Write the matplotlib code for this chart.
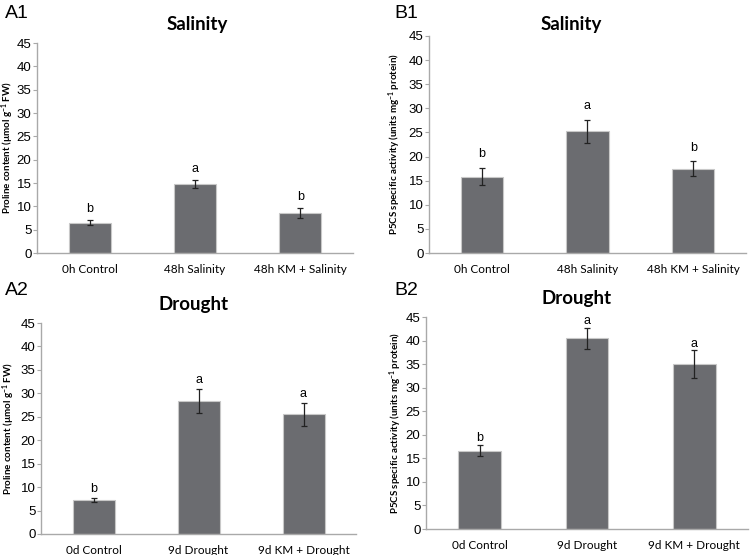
import matplotlib
matplotlib.use('Agg')
import matplotlib.pyplot as plt
import numpy as np

plt.rcParams['mathtext.default'] = 'regular'

# data
salt_groups = ['0h Control', '48h Salinity', '48h KM + Salinity']
drought_groups = ['0d Control', '9d Drought', '9d KM + Drought']

prol_salt = [6.5, 14.8, 8.6]
prol_salt_err = [0.5, 0.8, 1.0]
prol_salt_sig = ['b', 'a', 'b']

p5cs_salt = [15.8, 25.2, 17.5]
p5cs_salt_err = [1.8, 2.4, 1.5]
p5cs_salt_sig = ['b', 'a', 'b']

prol_drought = [7.2, 28.4, 25.5]
prol_drought_err = [0.4, 2.5, 2.4]
prol_drought_sig = ['b', 'a', 'a']

p5cs_drought = [16.6, 40.5, 35.0]
p5cs_drought_err = [1.2, 2.2, 2.9]
p5cs_drought_sig = ['b', 'a', 'a']

PROL_LABEL = 'Proline content (µmol g$^{-1}$ FW)'
P5CS_LABEL = 'P5CS specific activity (units mg$^{-1}$ protein)'

BAR_COLOR = '#6b6c70'
AXIS_COLOR = '#a9a9a9'
W, H = 750, 555


def fx(px):
    return px / W


def fy(py):
    return 1 - py / H


def panel(fig, box, groups, vals, errs, sig, ylabel, ylab_x, title, title_xy, tag, tag_xy, sig_off):
    # box = left, right, top, bottom in pixels
    l, r, t, b = box
    ax = fig.add_axes([fx(l), fy(b), (r - l) / W, (b - t) / H])
    x = np.arange(len(groups))
    ax.bar(x, vals, width=0.4, color=BAR_COLOR, edgecolor='#c8c8c8', linewidth=0.8, zorder=2)
    ax.errorbar(x, vals, yerr=errs, fmt='none', ecolor='#222222', elinewidth=0.9,
                capsize=2.2, capthick=0.9, zorder=3)
    for xi, v, e, s in zip(x, vals, errs, sig):
        ax.annotate(s, (xi, v + e), xytext=(0, sig_off), textcoords='offset points',
                    ha='center', va='bottom', fontsize=9, family='Liberation Sans')

    ax.set_xlim(-0.5, len(groups) - 0.5)
    ax.set_ylim(0, 45)
    ax.set_yticks(np.arange(0, 46, 5))
    ax.set_xticks(x)
    ax.set_xticklabels(groups, family='Lato', fontsize=8.5)
    for lab in ax.get_yticklabels():
        lab.set_family('Liberation Sans')
        lab.set_fontsize(9.5)
    ax.tick_params(axis='x', length=0, pad=8)
    ax.tick_params(axis='y', length=3, width=0.8, color=AXIS_COLOR, pad=1)
    for sp in ['top', 'right']:
        ax.spines[sp].set_visible(False)
    for sp in ['left', 'bottom']:
        ax.spines[sp].set_color(AXIS_COLOR)
        ax.spines[sp].set_linewidth(1.0)
    ax.set_ylabel(ylabel, family='Lato', fontweight='bold', fontsize=7, va='center')
    ax.yaxis.set_label_coords((ylab_x - l) / (r - l), 0.5)

    fig.text(fx(title_xy[0]), fy(title_xy[1]), title, ha='center', va='baseline',
             family='Lato', fontweight='bold', fontsize=13.5)
    fig.text(fx(tag_xy[0]), fy(tag_xy[1]), tag, ha='left', va='baseline',
             family='Liberation Sans', fontsize=14)
    return ax


fig = plt.figure(figsize=(7.5, 5.55), dpi=100)

panel(fig, (37, 353, 43, 253), salt_groups, prol_salt, prol_salt_err, prol_salt_sig,
      PROL_LABEL, 7.5, 'Salinity', (197, 30), 'A1', (5, 18), 4)
panel(fig, (429, 746, 36, 253), salt_groups, p5cs_salt, p5cs_salt_err, p5cs_salt_sig,
      P5CS_LABEL, 395, 'Salinity', (571, 30), 'B1', (394, 18), 5.5)
panel(fig, (41, 356, 323, 534), drought_groups, prol_drought, prol_drought_err, prol_drought_sig,
      PROL_LABEL, 8.5, 'Drought', (194, 310), 'A2', (5, 295), 2.5)
panel(fig, (426, 748, 317, 529), drought_groups, p5cs_drought, p5cs_drought_err, p5cs_drought_sig,
      P5CS_LABEL, 396, 'Drought', (577, 304), 'B2', (394, 295), 0.5)

fig.savefig('out.png', dpi=100, facecolor='white')
